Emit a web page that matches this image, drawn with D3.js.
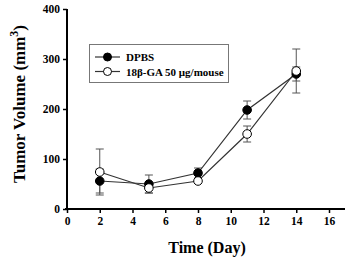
<!DOCTYPE html>
<html><head><meta charset="utf-8">
<script src="https://cdn.jsdelivr.net/npm/d3@7"></script>
<style>body{margin:0;background:#fff}svg{display:block}</style>
</head><body>
<svg id="c" width="346" height="259"></svg>
<script>
const days = [2, 5, 8, 11, 14];
const dpbs = [56, 50, 72, 198, 270];
const dpbsErr = [24, 18, 10, 18, 14];
const ga = [74, 42, 56, 150, 276];
const gaErr = [46, 10, 4, 16, 44];
const xTicks = [0, 2, 4, 6, 8, 10, 12, 14, 16];
const yTicks = [0, 100, 200, 300, 400];
const seriesNames = ["DPBS", "18\u03b2-GA 50 \u03bcg/mouse"];

const svg = d3.select("#c");
const font = "'Liberation Serif','Times New Roman',serif";
const x = d3.scaleLinear().domain([0, 16]).range([67, 329]);
const y = d3.scaleLinear().domain([0, 400]).range([209, 9]);

// axes
const yAxis = svg.append("g").attr("transform", "translate(67,0)")
  .call(d3.axisLeft(y).tickValues(yTicks).tickSize(4).tickSizeOuter(0).tickPadding(3));
const xAxis = svg.append("g").attr("transform", "translate(0,209)")
  .call(d3.axisBottom(x).tickValues(xTicks).tickSize(4).tickSizeOuter(0).tickPadding(4));
[yAxis, xAxis].forEach(a => {
  a.selectAll("path").attr("stroke", "#000").attr("stroke-width", 2);
  a.selectAll("line").attr("stroke", "#000").attr("stroke-width", 1.5);
  a.selectAll("text").attr("font-family", font).attr("font-weight", "bold")
    .attr("font-size", 11.5).attr("fill", "#000");
});
xAxis.select("path").attr("d", "M65,0H345");
yAxis.select("path").attr("d", "M0,210V9");

// titles
svg.append("text").attr("transform", "translate(25,104) rotate(-90)")
  .attr("text-anchor", "middle").attr("font-family", font).attr("font-weight", "bold")
  .attr("font-size", 17).attr("fill", "#000")
  .html("Tumor Volume (mm<tspan baseline-shift='super' font-size='12'>3</tspan>)");
svg.append("text").attr("x", 207).attr("y", 253).attr("text-anchor", "middle")
  .attr("font-family", font).attr("font-weight", "bold").attr("font-size", 16)
  .attr("fill", "#000").text("Time (Day)");

const series = [
  {vals: dpbs, err: dpbsErr, fill: "#000"},
  {vals: ga, err: gaErr, fill: "#fff"}
];
const line = d3.line().x((d, i) => x(days[i])).y(d => y(d));

// error bars
series.forEach(s => {
  const g = svg.append("g").attr("stroke", "#555").attr("stroke-width", 1);
  days.forEach((d, i) => {
    const cx = x(d), t = y(s.vals[i] + s.err[i]), b = y(s.vals[i] - s.err[i]);
    g.append("line").attr("x1", cx).attr("x2", cx).attr("y1", t).attr("y2", b);
    g.append("line").attr("x1", cx - 4).attr("x2", cx + 4).attr("y1", t).attr("y2", t);
    g.append("line").attr("x1", cx - 4).attr("x2", cx + 4).attr("y1", b).attr("y2", b);
  });
});
// lines
series.forEach(s => {
  svg.append("path").attr("d", line(s.vals)).attr("fill", "none")
    .attr("stroke", "#333").attr("stroke-width", 1.2);
});
// markers
series.forEach(s => {
  svg.append("g").selectAll("circle").data(s.vals).join("circle")
    .attr("cx", (d, i) => x(days[i])).attr("cy", d => y(d)).attr("r", 4.3)
    .attr("fill", s.fill).attr("stroke", "#000").attr("stroke-width", 1);
});

// legend
const lg = svg.append("g");
lg.append("rect").attr("x", 89.5).attr("y", 44.5).attr("width", 139).attr("height", 38)
  .attr("fill", "#fff").attr("stroke", "#777").attr("stroke-width", 1);
seriesNames.forEach((n, i) => {
  const yy = 57 + i * 14.5;
  lg.append("line").attr("x1", 95).attr("x2", 120).attr("y1", yy).attr("y2", yy)
    .attr("stroke", "#333").attr("stroke-width", 1.2);
  lg.append("circle").attr("cx", 107.5).attr("cy", yy).attr("r", 4)
    .attr("fill", series[i].fill).attr("stroke", "#000");
  lg.append("text").attr("x", 126).attr("y", yy + 4).attr("font-family", font)
    .attr("font-weight", "bold").attr("font-size", 11).attr("fill", "#000").text(n);
});
</script>
</body></html>
